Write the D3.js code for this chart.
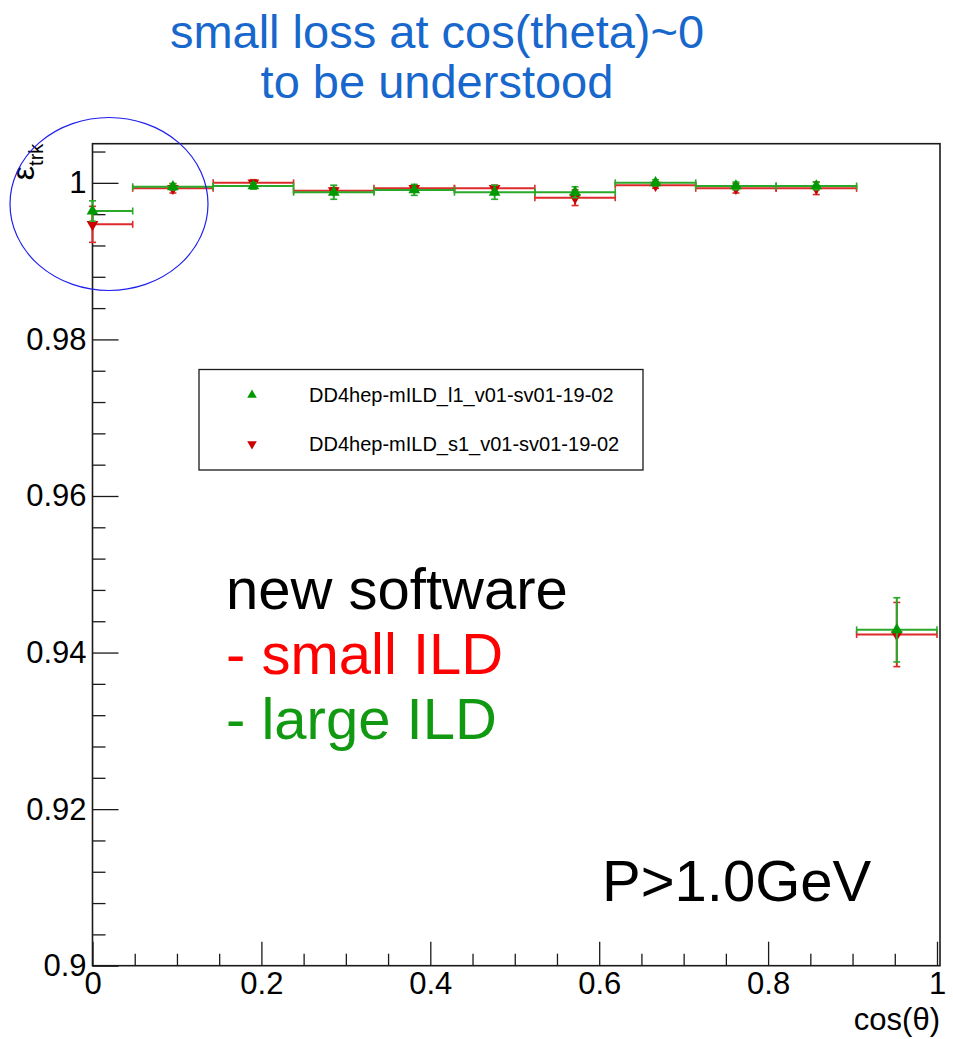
<!DOCTYPE html>
<html>
<head>
<meta charset="utf-8">
<script src="https://cdn.jsdelivr.net/npm/d3@7"></script>
<style>
  html, body { margin: 0; padding: 0; background: #fff; }
  svg { display: block; font-family: "Liberation Sans", Arial, Helvetica, sans-serif; }
</style>
</head>
<body>
<svg id="chart" width="953" height="1039"></svg>
<script>
// Tracking efficiency vs cos(theta), two detector models
const binLow    = [0.0000, 0.0476, 0.1429, 0.2381, 0.3333, 0.4286, 0.5238, 0.6190, 0.7143, 0.8095, 0.9048];
const binHigh   = [0.0476, 0.1429, 0.2381, 0.3333, 0.4286, 0.5238, 0.6190, 0.7143, 0.8095, 0.9048, 1.0000];
const binCenter = [0.0000, 0.0952, 0.1905, 0.2857, 0.3810, 0.4762, 0.5714, 0.6667, 0.7619, 0.8571, 0.9524];

const largeEff = [0.9964, 0.9995, 0.9996, 0.9988, 0.9991, 0.9988, 0.9988, 1.0000, 0.9996, 0.9996, 0.9429];
const largeErr = [0.0013, 0.0004, 0.0004, 0.0009, 0.0007, 0.0009, 0.0007, 0.0004, 0.0005, 0.0005, 0.0041];
const smallEff = [0.9947, 0.9993, 1.0000, 0.9990, 0.9993, 0.9993, 0.9981, 0.9997, 0.9993, 0.9993, 0.9423];
const smallErr = [0.0023, 0.0006, 0.0004, 0.0004, 0.0004, 0.0004, 0.0010, 0.0004, 0.0006, 0.0008, 0.0041];

const seriesNames = ["DD4hep-mILD_l1_v01-sv01-19-02", "DD4hep-mILD_s1_v01-sv01-19-02"];

const yMajorTicks = [0.90, 0.92, 0.94, 0.96, 0.98, 1.00];
const yTickLabels = ["0.9", "0.92", "0.94", "0.96", "0.98", "1"];
const xMajorTicks = [0, 0.2, 0.4, 0.6, 0.8, 1.0];
const xTickLabels = ["0", "0.2", "0.4", "0.6", "0.8", "1"];

const titleLines = ["small loss at cos(theta)~0", "to be understood"];
const noteLines = [
  { text: "new software", color: "#000000" },
  { text: "- small ILD",  color: "#ff0000" },
  { text: "- large ILD",  color: "#119911" }
];
const momentumCut = "P>1.0GeV";

const GREEN = "#009a00", GREEN_LINE = "#2aa82a";
const RED = "#cc0000", RED_LINE = "#dd2a2a";

const svg = d3.select("#chart");
const frame = { left: 92.5, right: 937, top: 143.7, bottom: 965.7 };

const x = d3.scaleLinear().domain([0, 1]).range([frame.left, frame.right]);
const y = d3.scaleLinear().domain([0.9, 1.005]).range([frame.bottom, frame.top]);

// title
svg.append("g").selectAll("text").data(titleLines).join("text")
  .attr("x", 437).attr("y", (d, i) => 48 + i * 50)
  .attr("text-anchor", "middle")
  .attr("font-size", 47).attr("fill", "#1767cc")
  .text(d => d);

// frame
svg.append("rect")
  .attr("x", frame.left).attr("y", frame.top)
  .attr("width", frame.right - frame.left + 3).attr("height", frame.bottom - frame.top)
  .attr("fill", "none").attr("stroke", "#1a1a1a").attr("stroke-width", 1.6);

// y axis: ticks point into the frame
const yMinor = d3.range(0.9, 1.0041, 0.004).filter(v => !yMajorTicks.some(m => Math.abs(m - v) < 1e-6));
svg.append("g").attr("transform", `translate(${frame.left},0)`)
  .call(d3.axisLeft(y).tickValues(yMinor).tickSize(-13).tickFormat(""))
  .call(g => g.select(".domain").remove())
  .call(g => g.selectAll("line").attr("stroke", "#1a1a1a").attr("stroke-width", 1.3));
svg.append("g").attr("transform", `translate(${frame.left},0)`)
  .call(d3.axisLeft(y).tickValues(yMajorTicks).tickSize(-26).tickPadding(6)
    .tickFormat((d, i) => yTickLabels[i]))
  .call(g => g.select(".domain").remove())
  .call(g => g.selectAll("line").attr("stroke", "#1a1a1a").attr("stroke-width", 1.3))
  .call(g => g.selectAll("text").attr("font-size", 31).attr("fill", "#000")
    .attr("font-family", "\"Liberation Sans\", Arial, sans-serif"));

// x axis
const xMinor = d3.range(0, 1.0001, 0.05).filter(v => !xMajorTicks.some(m => Math.abs(m - v) < 1e-6));
svg.append("g").attr("transform", `translate(0,${frame.bottom})`)
  .call(d3.axisBottom(x).tickValues(xMinor).tickSize(-12).tickFormat(""))
  .call(g => g.select(".domain").remove())
  .call(g => g.selectAll("line").attr("stroke", "#1a1a1a").attr("stroke-width", 1.3));
svg.append("g").attr("transform", `translate(0,${frame.bottom})`)
  .call(d3.axisBottom(x).tickValues(xMajorTicks).tickSize(-24).tickPadding(6)
    .tickFormat((d, i) => xTickLabels[i]))
  .call(g => g.select(".domain").remove())
  .call(g => g.selectAll("line").attr("stroke", "#1a1a1a").attr("stroke-width", 1.3))
  .call(g => g.selectAll("text").attr("font-size", 31).attr("fill", "#000")
    .attr("font-family", "\"Liberation Sans\", Arial, sans-serif"));

// axis titles
svg.append("text")
  .attr("x", frame.right + 3).attr("y", 1030)
  .attr("text-anchor", "end").attr("font-size", 31).attr("fill", "#000")
  .text("cos(θ)");

const yTitle = svg.append("text")
  .attr("transform", `translate(34,${frame.top}) rotate(-90)`)
  .attr("text-anchor", "end").attr("fill", "#000");
yTitle.append("tspan").attr("font-size", 32).text("ε");
yTitle.append("tspan").attr("font-size", 20).attr("dy", 9).text("trk");

// markers and error bars
const tri = d3.symbol().type(d3.symbolTriangle).size(60);

function drawSeries(eff, err, lineColor, markColor, down) {
  const rows = binCenter.map((c, i) => ({ c, lo: binLow[i], hi: binHigh[i], v: eff[i], e: err[i] }));
  const g = svg.append("g");
  const cap = 3.5;
  // horizontal bin-width bars
  g.selectAll(".h").data(rows).join("line")
    .attr("x1", d => x(d.lo)).attr("x2", d => x(d.hi))
    .attr("y1", d => y(d.v)).attr("y2", d => y(d.v))
    .attr("stroke", lineColor).attr("stroke-width", 2);
  g.selectAll(".hl").data(rows).join("line")
    .attr("x1", d => x(d.lo)).attr("x2", d => x(d.lo))
    .attr("y1", d => y(d.v) - cap).attr("y2", d => y(d.v) + cap)
    .attr("stroke", lineColor).attr("stroke-width", 1.6);
  g.selectAll(".hr").data(rows).join("line")
    .attr("x1", d => x(d.hi)).attr("x2", d => x(d.hi))
    .attr("y1", d => y(d.v) - cap).attr("y2", d => y(d.v) + cap)
    .attr("stroke", lineColor).attr("stroke-width", 1.6);
  // vertical statistical errors
  g.selectAll(".v").data(rows).join("line")
    .attr("x1", d => x(d.c)).attr("x2", d => x(d.c))
    .attr("y1", d => y(d.v - d.e)).attr("y2", d => y(d.v + d.e))
    .attr("stroke", lineColor).attr("stroke-width", 2);
  g.selectAll(".vt").data(rows).join("line")
    .attr("x1", d => x(d.c) - cap).attr("x2", d => x(d.c) + cap)
    .attr("y1", d => y(d.v + d.e)).attr("y2", d => y(d.v + d.e))
    .attr("stroke", lineColor).attr("stroke-width", 1.6);
  g.selectAll(".vb").data(rows).join("line")
    .attr("x1", d => x(d.c) - cap).attr("x2", d => x(d.c) + cap)
    .attr("y1", d => y(d.v - d.e)).attr("y2", d => y(d.v - d.e))
    .attr("stroke", lineColor).attr("stroke-width", 1.6);
  g.selectAll("path").data(rows).join("path")
    .attr("d", tri)
    .attr("transform", d => `translate(${x(d.c)},${y(d.v)})${down ? " rotate(180)" : ""}`)
    .attr("fill", markColor);
}

drawSeries(smallEff, smallErr, RED_LINE, RED, true);
drawSeries(largeEff, largeErr, GREEN_LINE, GREEN, false);

// legend
const legend = svg.append("g");
legend.append("rect")
  .attr("x", 199).attr("y", 369.5).attr("width", 444).attr("height", 100.5)
  .attr("fill", "#fff").attr("stroke", "#1a1a1a").attr("stroke-width", 1.3);
const legendRows = [
  { name: seriesNames[0], color: GREEN, down: false, yy: 395 },
  { name: seriesNames[1], color: RED, down: true, yy: 444 }
];
legend.selectAll("path").data(legendRows).join("path")
  .attr("d", d3.symbol().type(d3.symbolTriangle).size(40))
  .attr("transform", d => `translate(252,${d.yy})${d.down ? " rotate(180)" : ""}`)
  .attr("fill", d => d.color);
legend.selectAll("text").data(legendRows).join("text")
  .attr("x", 309).attr("y", d => d.yy + 7)
  .attr("font-size", 20).attr("fill", "#000")
  .text(d => d.name);

// notes
svg.append("g").selectAll("text").data(noteLines).join("text")
  .attr("x", 226).attr("y", (d, i) => 609 + i * 65)
  .attr("font-size", 58).attr("fill", d => d.color)
  .text(d => d.text);

svg.append("text")
  .attr("x", 602).attr("y", 901)
  .attr("font-size", 58).attr("fill", "#000")
  .text(momentumCut);

// highlight around the low cos(theta) region
svg.append("ellipse")
  .attr("cx", 109).attr("cy", 204).attr("rx", 99).attr("ry", 86.5)
  .attr("fill", "none").attr("stroke", "#1f1fef").attr("stroke-width", 1.2);
</script>
</body>
</html>
